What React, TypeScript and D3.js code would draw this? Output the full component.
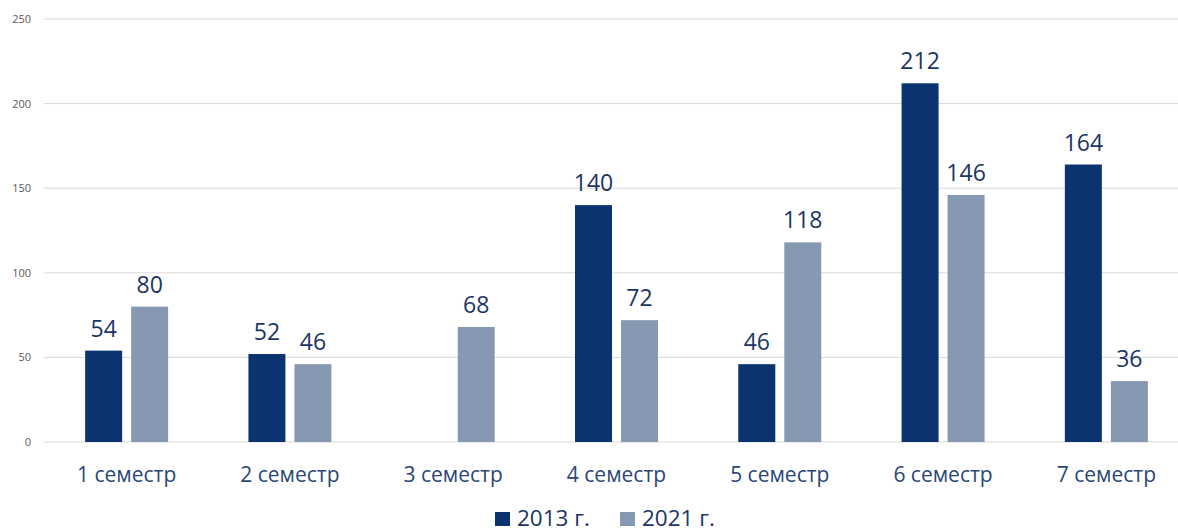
import React from "react";
import * as d3 from "d3";

const categories = ["1 семестр", "2 семестр", "3 семестр", "4 семестр", "5 семестр", "6 семестр", "7 семестр"];
const series2013: (number | null)[] = [54, 52, null, 140, 46, 212, 164];
const series2021: (number | null)[] = [80, 46, 68, 72, 118, 146, 36];
const seriesNames = ["2013 г.", "2021 г."];
const yTicks = [0, 50, 100, 150, 200, 250];

const W = 1178;
const H = 532;
const colors = ["#0b3370", "#8798b2"];
const font = "'Open Sans', 'Noto Sans', sans-serif";

export default function App() {
  const x = d3.scaleBand<string>().domain(categories).range([45, 1188]).paddingInner(0).paddingOuter(0);
  const y = d3.scaleLinear().domain([0, 250]).range([442, 19]);
  const barW = 37;
  const offset = 23;
  const series = [series2013, series2021];
  return (
    <svg width={W} height={H} style={{ position: "absolute", left: 0, top: 0, background: "#fff" }} fontFamily={font}>
      {yTicks.map((t) => (
        <g key={t}>
          <line x1={44} x2={W} y1={y(t)} y2={y(t)} stroke="#d9d9d9" strokeWidth={1} />
          <text x={31} y={y(t) + 4} textAnchor="end" fontSize={11} fill="#595959">{t}</text>
        </g>
      ))}
      {series.map((s, si) =>
        s.map((v, i) => {
          if (v === null) return null;
          const cx = x(categories[i])! + x.bandwidth() / 2 + (si === 0 ? -offset : offset);
          return (
            <g key={`${si}-${i}`}>
              <rect x={cx - barW / 2} y={y(v)} width={barW} height={y(0) - y(v)} fill={colors[si]} />
              <text x={cx} y={y(v) - 14} textAnchor="middle" fontSize={23} fill="#1c3564">{v}</text>
            </g>
          );
        })
      )}
      {categories.map((c) => (
        <text key={c} x={x(c)! + x.bandwidth() / 2} y={482} textAnchor="middle" fontSize={21} fill="#2b4677">{c}</text>
      ))}
      {seriesNames.map((n, i) => {
        const lx = i === 0 ? 495 : 620;
        return (
          <g key={n}>
            <rect x={lx} y={512} width={15} height={14} fill={colors[i]} />
            <text x={lx + 22} y={526} fontSize={22.5} fill="#1c3564">{n}</text>
          </g>
        );
      })}
    </svg>
  );
}
